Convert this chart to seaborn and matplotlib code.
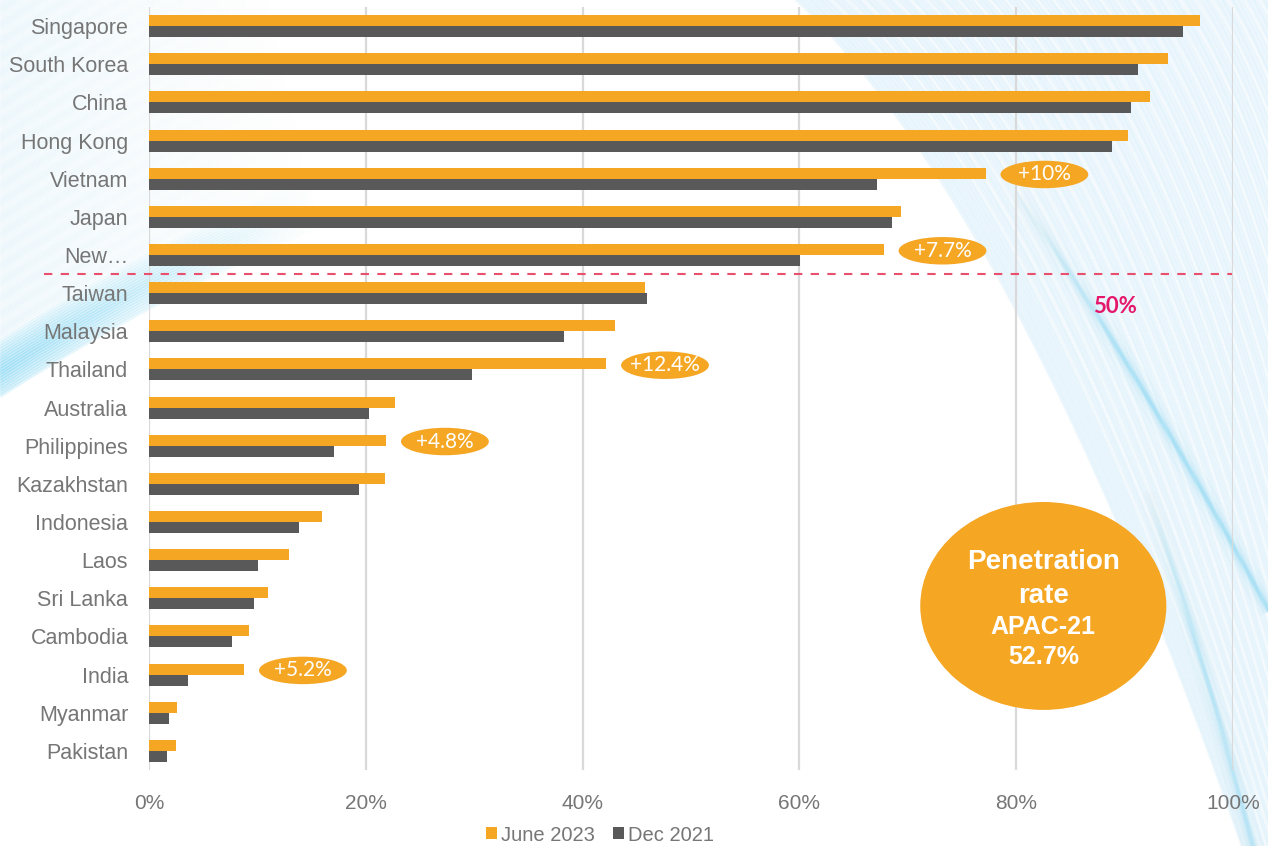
import numpy as np
import pandas as pd
import matplotlib
matplotlib.use("Agg")
import matplotlib.pyplot as plt
import seaborn as sns
from matplotlib.patches import Ellipse, Patch, Polygon
from matplotlib.collections import LineCollection
from matplotlib.colors import to_rgb
from matplotlib.transforms import blended_transform_factory

# ---------------- data ----------------
countries = ["Singapore", "South Korea", "China", "Hong Kong", "Vietnam", "Japan",
             "New Zealand", "Taiwan", "Malaysia", "Thailand", "Australia",
             "Philippines", "Kazakhstan", "Indonesia", "Laos", "Sri Lanka",
             "Cambodia", "India", "Myanmar", "Pakistan"]
tick_labels = ["Singapore", "South Korea", "China", "Hong Kong", "Vietnam", "Japan",
               "New…", "Taiwan", "Malaysia", "Thailand", "Australia",
               "Philippines", "Kazakhstan", "Indonesia", "Laos", "Sri Lanka",
               "Cambodia", "India", "Myanmar", "Pakistan"]
june_2023 = [97.0, 94.0, 92.3, 90.3, 77.2, 69.4, 67.8, 45.8, 43.0, 42.2,
             22.7, 21.9, 21.8, 16.0, 12.9, 11.0, 9.2, 8.8, 2.6, 2.5]
dec_2021 = [95.4, 91.2, 90.6, 88.8, 67.2, 68.5, 60.1, 45.9, 38.3, 29.8,
            20.3, 17.1, 19.4, 13.8, 10.1, 9.7, 7.7, 3.6, 1.8, 1.7]
series_names = ["June 2023", "Dec 2021"]
highlighted = ["Vietnam", "New Zealand", "Thailand", "Philippines", "India"]
x_ticks = [0, 20, 40, 60, 80, 100]
threshold_label = "50%"
summary_lines = ["Penetration", "rate", "APAC-21", "52.7%"]

ORANGE = "#F5A623"
DARK = "#595959"
GREY_TXT = "#767676"

df = pd.DataFrame({
    "country": countries * 2,
    "rate": june_2023 + dec_2021,
    "period": [series_names[0]] * len(countries) + [series_names[1]] * len(countries),
})

# ---------------- figure ----------------
sns.set_theme(style="white")
plt.rcParams["font.family"] = ["Liberation Sans", "DejaVu Sans"]

W, H = 1268, 846
fig = plt.figure(figsize=(W / 100, H / 100), dpi=100)
fig.patch.set_facecolor("white")

# decorative background of soft blue streaks
bg = fig.add_axes([0, 0, 1, 1], zorder=0)
bg.set_xlim(0, W)
bg.set_ylim(H, 0)
bg.axis("off")


def streak(xs, ys, color, alphas, lw):
    pts = np.column_stack([xs, ys])
    segs = np.stack([pts[:-1], pts[1:]], axis=1)
    rgba = np.zeros((len(segs), 4))
    rgba[:, :3] = to_rgb(color)
    rgba[:, 3] = np.clip(alphas[:-1], 0, 1)
    bg.add_collection(LineCollection(segs, colors=rgba, linewidths=lw, capstyle="butt"))


t = np.linspace(0, 1, 200)


def bez(p0, p1, p2):
    x = (1 - t) ** 2 * p0[0] + 2 * (1 - t) * t * p1[0] + t ** 2 * p2[0]
    y = (1 - t) ** 2 * p0[1] + 2 * (1 - t) * t * p1[1] + t ** 2 * p2[1]
    return x, y


# right-hand fan
bx, by = bez((790, -5), (1020, 209), (1243, 851))
poly = np.vstack([np.column_stack([bx, by]), [[W + 10, H + 10], [W + 10, -10]]])
bg.add_patch(Polygon(poly, closed=True, fc="#EDF7FD", ec="none"))
for k, dx in enumerate(np.linspace(0, 560, 140)):
    x, y = bez((790 + 1.3 * dx, -5), (1020 + dx, 209), (1243 + 0.55 * dx, 851))
    a = 0.05 + 0.05 * np.sin(k * 1.7) ** 2
    streak(x, y, "#A6DBF4", np.full_like(t, a), 1.8)
for k, dx in enumerate(np.linspace(20, 560, 45)):
    x, y = bez((800 + 1.3 * dx, -5), (1030 + dx, 200), (1250 + 0.55 * dx, 851))
    streak(x, y, "white", np.full_like(t, 0.5), 2.0)

for lw, a in [(16, 0.05), (9, 0.10), (5, 0.18), (2.5, 0.35)]:
    x, y = bez((1000, 170), (1135, 360), (1290, 650))
    streak(x, y, "#7AD3F3", a * np.clip((t - 0.05) / 0.4, 0, 1), lw)
    x, y = bez((1140, 470), (1200, 640), (1255, 855))
    streak(x, y, "#86D7F4", 0.8 * a * np.clip((t - 0.05) / 0.4, 0, 1), lw)

# left-hand diagonal band
xs = np.linspace(0, 420, 160)
for c in np.linspace(-60, 396, 160):
    ys = c - 0.64 * xs + 0.00035 * xs ** 2
    fade = np.clip(1 - xs / (240 + 0.2 * max(c, 0)), 0, 1)
    if c > 340:
        strength = 0.5 * (1 - abs(c - 372) / 36) ** 0.7
        streak(xs, ys, "#79D3F3", strength * fade, 2.6)
    else:
        streak(xs, ys, "#B9E3F6", (0.12 + 0.08 * np.sin(c * 0.9) ** 2) * fade, 2.4)

# ---------------- bars ----------------
ax = fig.add_axes([149 / W, 1 - 770 / H, 1084 / W, 763 / H], zorder=1)
ax.patch.set_alpha(0)
sns.barplot(data=df, x="rate", y="country", hue="period", order=countries,
            hue_order=series_names, palette=[ORANGE, DARK], orient="h",
            width=0.576, saturation=1, linewidth=0, legend=False, ax=ax)

ax.set_xlim(0, 100)
ax.set_ylim(len(countries) - 0.5, -0.5)
ax.set_xticks(x_ticks)
ax.set_xticklabels([f"{v}%" for v in x_ticks])
ax.set_yticks(range(len(countries)))
ax.set_yticklabels(tick_labels)
ax.set_xlabel("")
ax.set_ylabel("")
ax.xaxis.grid(True, color="#D9D9D9", linewidth=1.6)
ax.yaxis.grid(False)
ax.set_axisbelow(True)
for s in ax.spines.values():
    s.set_visible(False)
ax.tick_params(axis="y", length=0, pad=15, labelsize=15.5, labelcolor=GREY_TXT)
ax.tick_params(axis="x", length=0, pad=17, labelsize=15, labelcolor=GREY_TXT)

# growth call-outs
for name in highlighted:
    i = countries.index(name)
    d = round(june_2023[i] - dec_2021[i], 1)
    cx, cy = june_2023[i] + 5.4, i - 0.11
    ax.add_patch(Ellipse((cx, cy), 8.1, 0.72, fc=ORANGE, ec="none", zorder=4))
    ax.text(cx, cy, f"+{d:g}%", color="white", fontsize=15, family=["Lato", "DejaVu Sans"],
            ha="center", va="center", zorder=5)

# 50% threshold line
trans = blended_transform_factory(fig.transFigure, ax.transData)
ax.plot([44 / W, 1232 / W], [6.5, 6.5], transform=trans, color="#E8506E",
        lw=1.5, ls=(0, (4, 4)), clip_on=False, zorder=3)
ax.text(89.1, 7.36, threshold_label, color="#E5176B", fontsize=16, fontweight="bold",
        family=["Lato", "DejaVu Sans"], ha="center", va="center", zorder=5)

# summary badge
ax.add_patch(Ellipse((82.5, 15.2), 22.7, 5.45, fc=ORANGE, ec="none", zorder=4))
for txt, dy, fs in zip(summary_lines, [-1.16, -0.27, 0.55, 1.33], [20, 20, 18, 18]):
    ax.text(82.5, 15.2 + dy, txt, color="white", fontsize=fs, fontweight="bold",
            ha="center", va="center", zorder=5)

# legend
handles = [Patch(facecolor=ORANGE, edgecolor="none", label=series_names[0]),
           Patch(facecolor=DARK, edgecolor="none", label=series_names[1])]
fig.legend(handles=handles, loc="center", bbox_to_anchor=(600 / W, 1 - 835 / H),
           ncol=2, frameon=False, fontsize=14.5, labelcolor=GREY_TXT,
           handlelength=0.55, handleheight=0.55, handletextpad=0.2,
           columnspacing=0.9)

fig.savefig("out.png", dpi=100)
